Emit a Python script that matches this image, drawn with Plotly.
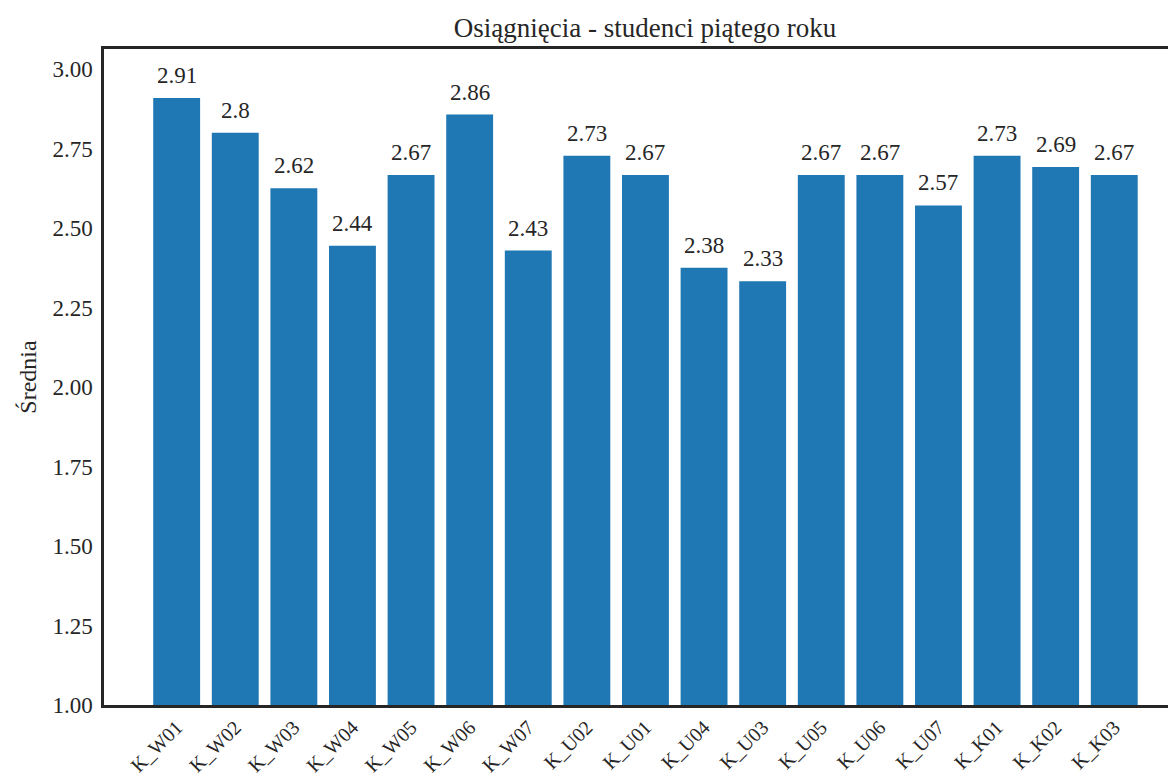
import plotly.graph_objects as go

# data
categories = ["K_W01", "K_W02", "K_W03", "K_W04", "K_W05", "K_W06", "K_W07",
              "K_U02", "K_U01", "K_U04", "K_U03", "K_U05", "K_U06", "K_U07",
              "K_K01", "K_K02", "K_K03"]
averages = [2.909, 2.8, 2.625, 2.444, 2.667, 2.857, 2.429,
            2.727, 2.667, 2.375, 2.333, 2.667, 2.667, 2.571,
            2.727, 2.692, 2.667]
value_labels = [str(round(v, 2)) for v in averages]
y_ticks = [1.00, 1.25, 1.50, 1.75, 2.00, 2.25, 2.50, 2.75, 3.00]

font_name = "Liberation Serif"
ink = "#262626"

# page body has an 8px margin, so the figure is a bit smaller than the window
W, H = 1168, 770

fig = go.Figure()
fig.add_trace(go.Bar(
    x=list(range(len(categories))), y=averages,
    base=0, width=0.8,
    marker=dict(color="#1f77b4", line=dict(width=0)),
    hoverinfo="skip",
))

# value labels above bars
for i, (v, lab) in enumerate(zip(averages, value_labels)):
    fig.add_annotation(x=i, y=v, text=lab, showarrow=False,
                       yanchor="bottom", yshift=8,
                       font=dict(family=font_name, size=23, color=ink))

fig.update_layout(
    width=W, height=H,
    margin=dict(l=96, r=0, t=41, b=73),
    paper_bgcolor="white", plot_bgcolor="white",
    showlegend=False,
    title=dict(text="Osiągnięcia - studenci piątego roku",
               x=637 / W, xanchor="center", xref="container",
               y=1 - 20 / H, yanchor="middle", yref="container",
               font=dict(family=font_name, size=27, color=ink)),
    font=dict(family=font_name, color=ink),
)

fig.update_xaxes(
    tickmode="array", tickvals=list(range(len(categories))), ticktext=categories,
    tickangle=-45, tickfont=dict(family=font_name, size=20, color=ink),
    range=[-1.24, -1.24 + 1072 / 58.6],
    showgrid=False, zeroline=False, automargin=False,
    showline=True, linecolor=ink, linewidth=2.5, mirror=True,
    ticks="", ticklabelstandoff=0,
)
fig.update_yaxes(
    range=[1.0, 3.063],
    tickmode="array", tickvals=y_ticks, ticktext=[f"{t:.2f}" for t in y_ticks],
    tickfont=dict(family=font_name, size=23, color=ink),
    title=dict(text="Średnia", font=dict(family=font_name, size=24, color=ink), standoff=10),
    showgrid=False, zeroline=False, automargin=False,
    showline=True, linecolor=ink, linewidth=2.5,
    ticks="", ticklabelstandoff=4,
)

fig.write_html("out.html")
